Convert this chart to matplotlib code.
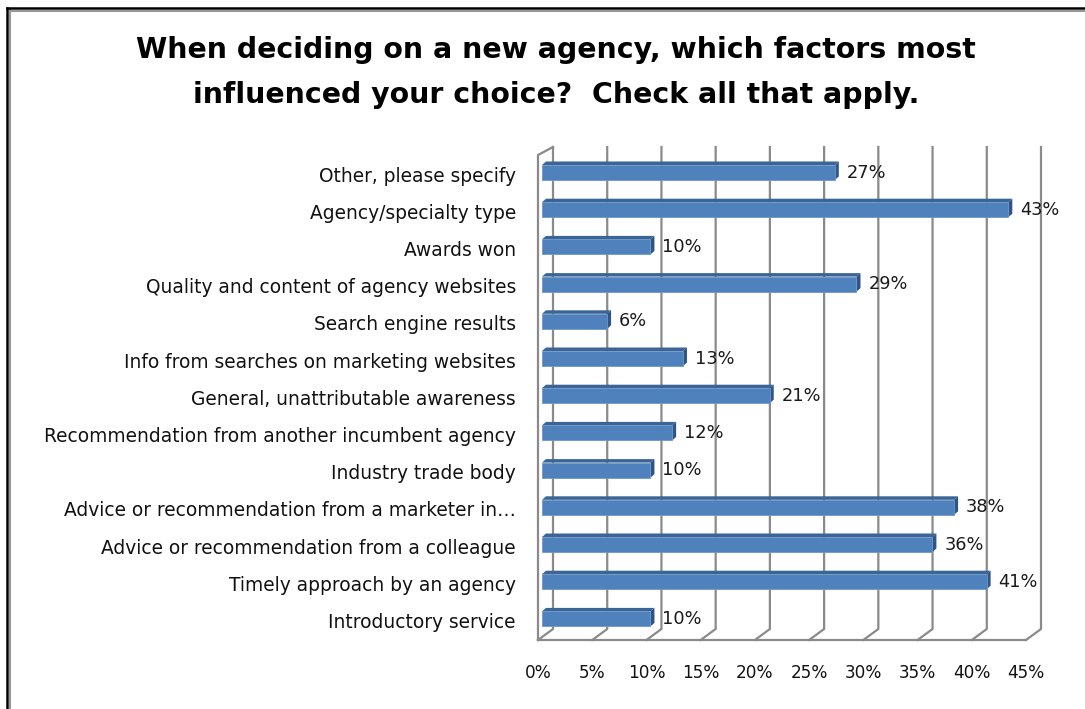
import matplotlib
matplotlib.use("Agg")
import matplotlib.pyplot as plt
from matplotlib.patches import Polygon, Rectangle
from matplotlib.lines import Line2D

title_lines = ["When deciding on a new agency, which factors most",
               "influenced your choice?  Check all that apply."]

# survey answers, top to bottom as drawn
categories = [
    "Other, please specify",
    "Agency/specialty type",
    "Awards won",
    "Quality and content of agency websites",
    "Search engine results",
    "Info from searches on marketing websites",
    "General, unattributable awareness",
    "Recommendation from another incumbent agency",
    "Industry trade body",
    "Advice or recommendation from a marketer in\u2026",
    "Advice or recommendation from a colleague",
    "Timely approach by an agency",
    "Introductory service",
]
shares = [27, 43, 10, 29, 6, 13, 21, 12, 10, 38, 36, 41, 10]
x_ticks = [0, 5, 10, 15, 20, 25, 30, 35, 40, 45]

W, H = 1085, 709
fig = plt.figure(figsize=(W / 100, H / 100), dpi=100)

# front plane of the 3d box, in pixels
x0_px, x1_px = 538, 1026
top_px, floor_px = 158, 640
cat0_px, step_px = 176, 37.2

ax = fig.add_axes([x0_px / W, 1 - floor_px / H,
                   (x1_px - x0_px) / W, (floor_px - top_px) / H])
ymax = (floor_px - cat0_px) / step_px
ymin = (top_px - cat0_px) / step_px
ax.set_xlim(0, 45)
ax.set_ylim(ymax, ymin)
ax.axis("off")

px_x = (x1_px - x0_px) / 45.0
px_y = step_px


def dx(p):
    return p / px_x


def dy(p):
    # positive pixels go up the page, i.e. towards smaller data y
    return -p / px_y


grid_col = "#8a8a8a"
back_dx, back_dy = dx(15), dy(11)
back_top = (147 - cat0_px) / step_px

# back wall grid lines with their floor slant
for t in x_ticks:
    ax.plot([t, t + back_dx, t + back_dx],
            [ymax, ymax + back_dy, back_top],
            color=grid_col, lw=1.6, clip_on=False, zorder=1)

# floor front edge and left wall edge
ax.plot([0, 45], [ymax, ymax], color=grid_col, lw=1.6, clip_on=False, zorder=1)
ax.plot([0, 0, back_dx], [ymax, (155 - cat0_px) / step_px, back_top],
        color=grid_col, lw=1.6, clip_on=False, zorder=1)

# bars with a thin top and end face
face = "#4f81bd"
top_col = "#3b6595"
side_col = "#2f5486"
bar_h = 15 / px_y
off_x, off_y = dx(4), dy(3.5)
dep_x, dep_y = dx(4), dy(3.5)
for i, v in enumerate(shares):
    yc = i + off_y
    left = off_x
    right = v + off_x
    ytop = yc - bar_h / 2
    ybot = yc + bar_h / 2
    ax.add_patch(Polygon([(left, ytop), (right, ytop),
                          (right + dep_x, ytop + dep_y), (left + dep_x, ytop + dep_y)],
                         closed=True, fc=top_col, ec="none", zorder=3, clip_on=False))
    ax.add_patch(Polygon([(right, ytop), (right + dep_x, ytop + dep_y),
                          (right + dep_x, ybot + dep_y), (right, ybot)],
                         closed=True, fc=side_col, ec="none", zorder=3, clip_on=False))
    ax.add_patch(Rectangle((left, ytop), v, bar_h, fc=face, ec="#6f97c8",
                           lw=0.6, zorder=4, clip_on=False))
    ax.text(right + dep_x + dx(8), yc, f"{v}%", ha="left", va="center",
            fontsize=12.8, color="#1a1a1a", zorder=5, clip_on=False)

# category labels
for i, c in enumerate(categories):
    ax.text(dx(-22), i, c, ha="right", va="center", fontsize=13.4,
            color="#111111", clip_on=False)

# value axis labels
tick_y = (673 - cat0_px) / step_px
for t in x_ticks:
    ax.text(t, tick_y, f"{t}%", ha="center", va="center", fontsize=12.2,
            color="#111111", clip_on=False)

for k, line in enumerate(title_lines):
    fig.text(556 / W, 1 - (50 + 45 * k) / H, line, ha="center", va="center",
             fontsize=20.4, fontweight="bold", color="#000000")

# chart frame (double edge at top and left)
fig.add_artist(Line2D([7 / W, 7 / W], [0, 1 - 8 / H], color="black", lw=1.8))
fig.add_artist(Line2D([9.5 / W, 9.5 / W], [0, 1 - 10 / H], color="#999999", lw=1.5))
fig.add_artist(Line2D([7 / W, 1], [1 - 8 / H, 1 - 8 / H], color="black", lw=1.8))
fig.add_artist(Line2D([9.5 / W, 1], [1 - 10.5 / H, 1 - 10.5 / H], color="#999999", lw=1.5))

fig.savefig("out.png", dpi=100, facecolor="white")
